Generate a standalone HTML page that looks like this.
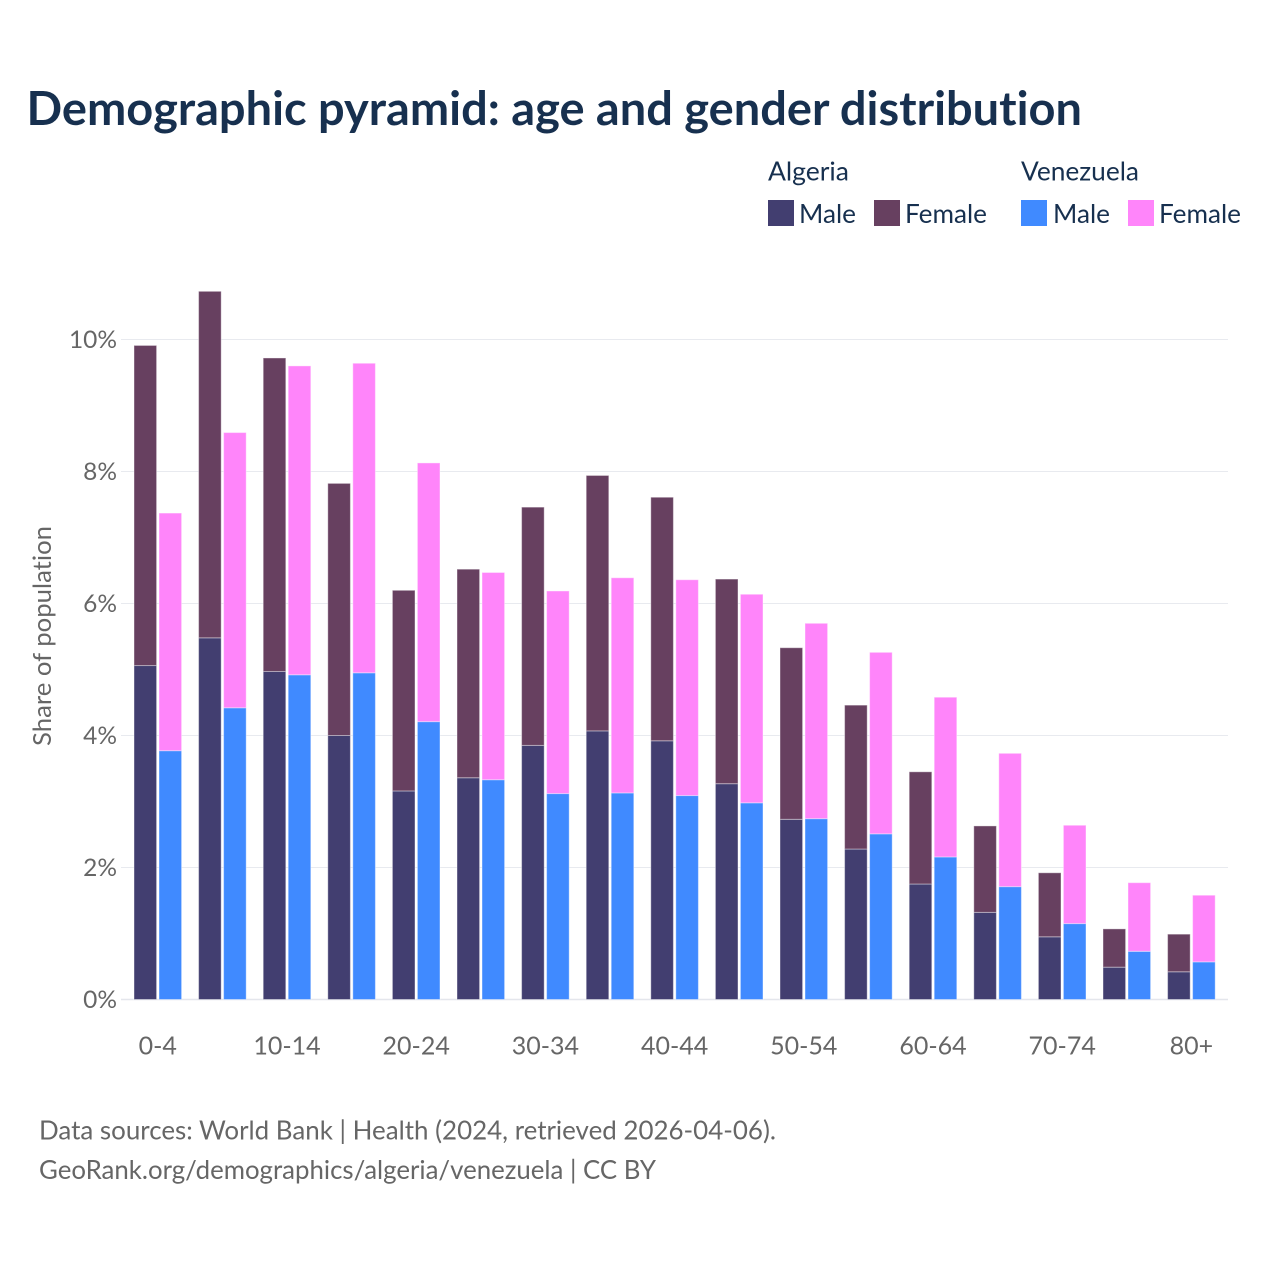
<!DOCTYPE html>
<html lang="en">
<head>
<meta charset="utf-8">
<title>Demographic pyramid: age and gender distribution</title>
<style>
  html, body { margin: 0; padding: 0; background: #fff; }
  svg { display: block; }
  text { font-family: "Lato", "Carlito", "Liberation Sans", sans-serif; font-variant-ligatures: none; }
</style>
</head>
<body>
<svg id="chart" width="1280" height="1280" viewBox="0 0 1280 1280" xmlns="http://www.w3.org/2000/svg">
  <rect width="1280" height="1280" fill="#ffffff"/>
  <text x="26.5" y="125" font-size="46.5" font-weight="700" fill="#17304f" textLength="1055.5" lengthAdjust="spacingAndGlyphs">Demographic pyramid: age and gender distribution</text>

  <g font-size="26" fill="#17304f">
    <text x="768" y="180.5" textLength="81" lengthAdjust="spacingAndGlyphs">Algeria</text>
    <text x="1021" y="180.5" textLength="118" lengthAdjust="spacingAndGlyphs">Venezuela</text>
    <rect x="768" y="200" width="26" height="26" fill="#423e70"/>
    <text x="799" y="223" textLength="57" lengthAdjust="spacingAndGlyphs">Male</text>
    <rect x="874" y="200" width="26" height="26" fill="#674060"/>
    <text x="905" y="223" textLength="82" lengthAdjust="spacingAndGlyphs">Female</text>
    <rect x="1021" y="200" width="26" height="26" fill="#408aff"/>
    <text x="1053" y="223" textLength="57" lengthAdjust="spacingAndGlyphs">Male</text>
    <rect x="1128" y="200" width="26" height="26" fill="#ff85fa"/>
    <text x="1159" y="223" textLength="82" lengthAdjust="spacingAndGlyphs">Female</text>
  </g>

  <g id="grid"></g>
  <g id="y-ticks" font-size="24.5" fill="#666666" text-anchor="end"></g>
  <g id="bars"></g>
  <g id="x-ticks" font-size="25" fill="#666666" text-anchor="middle"></g>

  <text transform="translate(51 636) rotate(-90)" font-size="25" fill="#666666" text-anchor="middle" textLength="220" lengthAdjust="spacingAndGlyphs">Share of population</text>

  <text x="39" y="1139.5" font-size="26" fill="#666666" textLength="737" lengthAdjust="spacingAndGlyphs">Data sources: World Bank | Health (2024, retrieved 2026-04-06).</text>
  <text x="39" y="1179" font-size="26" fill="#666666" textLength="617" lengthAdjust="spacingAndGlyphs">GeoRank.org/demographics/algeria/venezuela | CC BY</text>
</svg>
<script>
const ageGroups = ["0-4","5-9","10-14","15-19","20-24","25-29","30-34","35-39","40-44","45-49","50-54","55-59","60-64","65-69","70-74","75-79","80+"];
const xTickLabels = ["0-4","10-14","20-24","30-34","40-44","50-54","60-64","70-74","80+"];
const yTickValues = [0, 2, 4, 6, 8, 10];
const algeriaMale = [5.06,5.48,4.97,4.00,3.16,3.36,3.85,4.07,3.92,3.27,2.73,2.28,1.75,1.32,0.95,0.49,0.42];
const algeriaFemale = [4.85,5.25,4.75,3.82,3.04,3.16,3.61,3.87,3.69,3.10,2.60,2.18,1.70,1.31,0.97,0.58,0.57];
const venezuelaMale = [3.77,4.42,4.92,4.95,4.21,3.33,3.12,3.13,3.09,2.98,2.74,2.51,2.16,1.71,1.15,0.73,0.57];
const venezuelaFemale = [3.60,4.17,4.68,4.69,3.92,3.14,3.07,3.26,3.27,3.16,2.96,2.75,2.42,2.02,1.49,1.04,1.01];

const SVG_NS = "http://www.w3.org/2000/svg";
const Y_ZERO = 999.5;
const PX_PER_PCT = 66;
const BAND_START = 125.5;
const BAND_STEP = 64.6;
const BAR_WIDTH = 22.6;
const BAR_GAP = 2;
const yScale = function (v) { return Y_ZERO - v * PX_PER_PCT; };
const xCenter = function (i) { return BAND_START + BAND_STEP * (i + 0.5); };

const gridGroup = document.getElementById("grid");
const yTickGroup = document.getElementById("y-ticks");
const barGroup = document.getElementById("bars");
const xTickGroup = document.getElementById("x-ticks");

yTickValues.forEach(function (v) {
  const line = document.createElementNS(SVG_NS, "line");
  
  
  line.setAttribute("x1", 121);
  line.setAttribute("x2", 1228);
  line.setAttribute("y1", yScale(v));
  line.setAttribute("y2", yScale(v));
  line.setAttribute("stroke", v === 0 ? "#e4e6ec" : "#e8eaef");
  line.setAttribute("stroke-width", v === 0 ? 1.5 : 1);
  gridGroup.appendChild(line);

  const label = document.createElementNS(SVG_NS, "text");
  
  
  label.setAttribute("x", 117);
  label.setAttribute("y", yScale(v) + 8.5);
  label.textContent = v + "%";
  yTickGroup.appendChild(label);
});

function addBar(name, x, value, base, fill) {
  const rect = document.createElementNS(SVG_NS, "rect");
  
  
  rect.setAttribute("x", x);
  rect.setAttribute("y", yScale(base + value));
  rect.setAttribute("width", BAR_WIDTH);
  rect.setAttribute("height", value * PX_PER_PCT);
  rect.setAttribute("fill", fill);
  rect.setAttribute("stroke", "#ffffff");
  rect.setAttribute("stroke-opacity", "0.4");
  rect.setAttribute("stroke-width", "1");
  barGroup.appendChild(rect);
}

ageGroups.forEach(function (group, i) {
  const c = xCenter(i);
  const leftX = c - BAR_GAP / 2 - BAR_WIDTH - 0.2;
  const rightX = c + BAR_GAP / 2 + 0.2;
  addBar("bar-algeria-male-" + group, leftX, algeriaMale[i], 0, "#423e70");
  addBar("bar-algeria-female-" + group, leftX, algeriaFemale[i], algeriaMale[i], "#674060");
  addBar("bar-venezuela-male-" + group, rightX, venezuelaMale[i], 0, "#408aff");
  addBar("bar-venezuela-female-" + group, rightX, venezuelaFemale[i], venezuelaMale[i], "#ff85fa");
});

xTickLabels.forEach(function (labelText) {
  const label = document.createElementNS(SVG_NS, "text");
  
  
  label.setAttribute("x", xCenter(ageGroups.indexOf(labelText)));
  label.setAttribute("y", 1054.5);
  label.textContent = labelText;
  xTickGroup.appendChild(label);
});
</script>
</body>
</html>
